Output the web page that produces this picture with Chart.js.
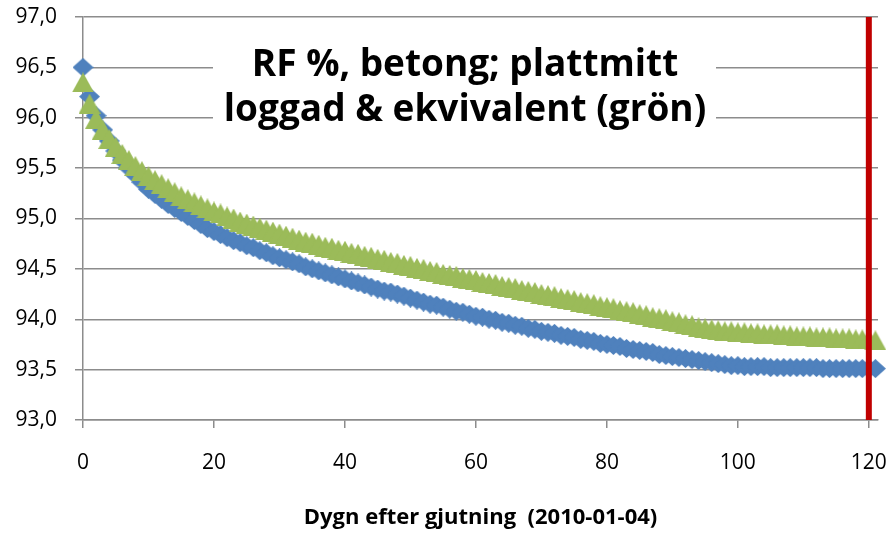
<!DOCTYPE html>
<html>
<head>
<meta charset="utf-8">
<script src="https://cdn.jsdelivr.net/npm/chart.js@4.4.0/dist/chart.umd.min.js"></script>
<style>
  html, body { margin: 0; padding: 0; background: #fff; }
</style>
</head>
<body>
<canvas id="rfChart" width="896" height="533"></canvas>
<script>
// Days after casting (one reading per day)
const days = [
  0, 1, 2, 3, 4, 5, 6, 7, 8, 9,
  10, 11, 12, 13, 14, 15, 16, 17, 18, 19,
  20, 21, 22, 23, 24, 25, 26, 27, 28, 29,
  30, 31, 32, 33, 34, 35, 36, 37, 38, 39,
  40, 41, 42, 43, 44, 45, 46, 47, 48, 49,
  50, 51, 52, 53, 54, 55, 56, 57, 58, 59,
  60, 61, 62, 63, 64, 65, 66, 67, 68, 69,
  70, 71, 72, 73, 74, 75, 76, 77, 78, 79,
  80, 81, 82, 83, 84, 85, 86, 87, 88, 89,
  90, 91, 92, 93, 94, 95, 96, 97, 98, 99,
  100, 101, 102, 103, 104, 105, 106, 107, 108, 109,
  110, 111, 112, 113, 114, 115, 116, 117, 118, 119,
  120, 121
];

// RF % logged (blue diamonds)
const rfLogged = [
  96.50, 96.21, 96.02, 95.88, 95.77, 95.67, 95.58, 95.50, 95.43, 95.36,
  95.29, 95.24, 95.19, 95.14, 95.10, 95.06, 95.02, 94.98, 94.94, 94.90,
  94.87, 94.84, 94.81, 94.78, 94.76, 94.73, 94.71, 94.68, 94.66, 94.63,
  94.61, 94.59, 94.57, 94.55, 94.52, 94.50, 94.48, 94.46, 94.44, 94.42,
  94.40, 94.38, 94.36, 94.34, 94.32, 94.30, 94.28, 94.27, 94.25, 94.23,
  94.21, 94.19, 94.17, 94.15, 94.14, 94.12, 94.10, 94.08, 94.07, 94.05,
  94.03, 94.02, 94.00, 93.99, 93.97, 93.96, 93.94, 93.93, 93.91, 93.90,
  93.88, 93.87, 93.86, 93.84, 93.83, 93.82, 93.80, 93.79, 93.78, 93.76,
  93.75, 93.74, 93.73, 93.71, 93.70, 93.69, 93.68, 93.67, 93.65, 93.64,
  93.63, 93.62, 93.61, 93.60, 93.59, 93.58, 93.57, 93.56, 93.55, 93.54,
  93.54, 93.53, 93.53, 93.53, 93.53, 93.52, 93.52, 93.52, 93.52, 93.52,
  93.52, 93.52, 93.52, 93.51, 93.51, 93.51, 93.51, 93.51, 93.51, 93.51,
  93.51, 93.51
];

// RF % equivalent (green triangles)
const rfEquivalent = [
  96.35, 96.14, 95.99, 95.88, 95.79, 95.71, 95.64, 95.58, 95.52, 95.47,
  95.42, 95.38, 95.34, 95.30, 95.26, 95.22, 95.19, 95.16, 95.13, 95.10,
  95.07, 95.05, 95.02, 95.00, 94.97, 94.95, 94.93, 94.91, 94.89, 94.87,
  94.85, 94.83, 94.81, 94.79, 94.77, 94.76, 94.74, 94.72, 94.71, 94.69,
  94.68, 94.66, 94.65, 94.63, 94.62, 94.60, 94.59, 94.57, 94.56, 94.54,
  94.53, 94.51, 94.50, 94.48, 94.47, 94.45, 94.44, 94.43, 94.41, 94.40,
  94.39, 94.37, 94.36, 94.35, 94.33, 94.32, 94.31, 94.29, 94.28, 94.27,
  94.25, 94.24, 94.23, 94.21, 94.20, 94.19, 94.17, 94.16, 94.15, 94.13,
  94.12, 94.11, 94.09, 94.08, 94.07, 94.05, 94.04, 94.02, 94.01, 94.00,
  93.98, 93.97, 93.95, 93.94, 93.92, 93.91, 93.90, 93.89, 93.88, 93.88,
  93.87, 93.87, 93.86, 93.86, 93.85, 93.85, 93.85, 93.84, 93.84, 93.83,
  93.83, 93.83, 93.82, 93.82, 93.82, 93.81, 93.81, 93.81, 93.80, 93.80,
  93.80, 93.79
];

const xTicks = [0, 20, 40, 60, 80, 100, 120];
const yTicks = [93.0, 93.5, 94.0, 94.5, 95.0, 95.5, 96.0, 96.5, 97.0];
const markerDay = 120;   // red vertical line
const titleLines = ['RF %, betong; plattmitt', 'loggad & ekvivalent (grön)'];
const xTitle = 'Dygn efter gjutning  (2010-01-04)';

const BLUE = '#4F81BD';
const GREEN = '#9BBB59';
const RED = '#C00000';
const GRID = '#8c8c8c';
const FONT = '"Open Sans", "Noto Sans", sans-serif';

// Excel-like marker shapes
function diamondMarker(w, h, color) {
  const c = document.createElement('canvas');
  c.width = w; c.height = h;
  const g = c.getContext('2d');
  g.fillStyle = color;
  g.beginPath();
  g.moveTo(w / 2, 0);
  g.lineTo(w, h / 2);
  g.lineTo(w / 2, h);
  g.lineTo(0, h / 2);
  g.closePath();
  g.fill();
  return c;
}

function triangleMarker(w, h, color) {
  const c = document.createElement('canvas');
  c.width = w; c.height = h;
  const g = c.getContext('2d');
  g.fillStyle = color;
  g.beginPath();
  g.moveTo(w / 2, 0);
  g.lineTo(w, h);
  g.lineTo(0, h);
  g.closePath();
  g.fill();
  return c;
}

// Title sits inside the plot on a white box
const titleBox = {
  id: 'titleBox',
  afterDatasetsDraw(chart) {
    const ctx = chart.ctx;
    ctx.save();
    ctx.fillStyle = '#fff';
    ctx.fillRect(213, 30, 503, 120);
    ctx.fillStyle = '#000';
    ctx.font = 'bold 37px ' + FONT;
    ctx.textAlign = 'center';
    ctx.textBaseline = 'alphabetic';
    ctx.fillText(titleLines[0], 465, 76);
    ctx.fillText(titleLines[1], 465, 121);
    ctx.restore();
  }
};

const ctx = document.getElementById('rfChart');

new Chart(ctx, {
  type: 'line',
  data: {
    datasets: [
      {
        label: 'Gräns',
        data: [{ x: markerDay, y: yTicks[0] }, { x: markerDay, y: yTicks[yTicks.length - 1] }],
        borderColor: RED,
        borderWidth: 6,
        pointRadius: 0,
        clip: false,
        order: 0
      },
      {
        label: 'Ekvivalent',
        data: days.map((d, i) => ({ x: d, y: rfEquivalent[i] })),
        showLine: false,
        pointStyle: triangleMarker(22, 20, GREEN),
        pointRadius: 10,
        clip: false,
        order: 1
      },
      {
        label: 'Loggad',
        data: days.map((d, i) => ({ x: d, y: rfLogged[i] })),
        showLine: false,
        pointStyle: diamondMarker(21, 19, BLUE),
        pointRadius: 10,
        clip: false,
        order: 2
      }
    ]
  },
  options: {
    responsive: false,
    animation: false,
    events: [],
    layout: {
      padding: { left: 0, right: 18, top: 17, bottom: 0 }
    },
    plugins: {
      legend: { display: false },
      tooltip: { enabled: false },
      title: { display: false }
    },
    scales: {
      x: {
        type: 'linear',
        min: 0,
        max: 121.4,
        afterBuildTicks: (scale) => {
          scale.ticks = xTicks.map(v => ({ value: v }));
        },
        afterFit: (scale) => {
          scale.height = 113;
          scale.paddingLeft = 0;
          scale.paddingRight = 0;
        },
        grid: {
          drawOnChartArea: false,
          drawTicks: true,
          tickLength: 8,
          color: GRID,
          lineWidth: 1.5
        },
        border: { display: true, color: GRID, width: 1.5 },
        ticks: {
          color: '#000',
          font: { family: FONT, size: 21 },
          padding: 22,
          maxRotation: 0
        },
        title: {
          display: true,
          text: xTitle,
          color: '#000',
          font: { family: FONT, size: 22, weight: 'bold' },
          padding: { top: 0, bottom: 2 }
        }
      },
      y: {
        min: 93,
        max: 97,
        afterBuildTicks: (scale) => {
          scale.ticks = yTicks.map(v => ({ value: v }));
        },
        afterFit: (scale) => {
          scale.width = 83;
          scale.paddingTop = 0;
          scale.paddingBottom = 0;
        },
        grid: {
          color: GRID,
          lineWidth: 1.5,
          tickLength: 8
        },
        border: { display: true, color: GRID, width: 1.5 },
        ticks: {
          color: '#000',
          font: { family: FONT, size: 21 },
          padding: 18,
          callback: v => v.toFixed(1).replace('.', ',')
        }
      }
    }
  },
  plugins: [titleBox]
});
</script>
</body>
</html>
